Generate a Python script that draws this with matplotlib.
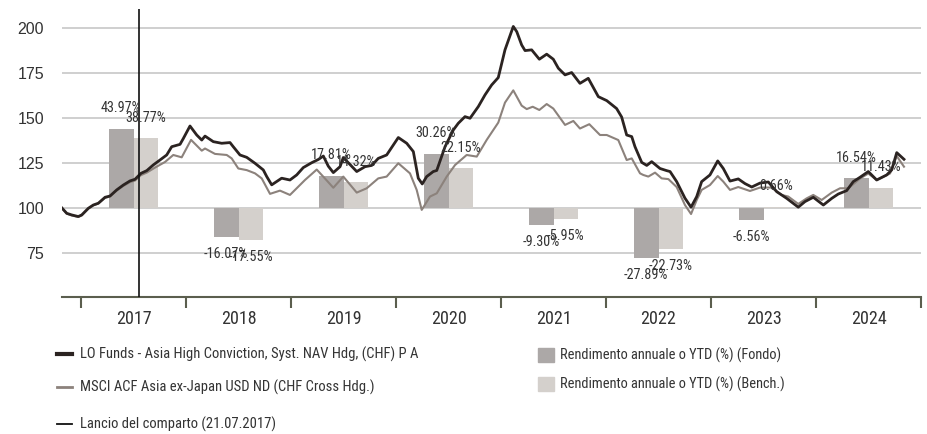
import os
import matplotlib
matplotlib.use("Agg")
import numpy as np
import matplotlib.pyplot as plt
from matplotlib import font_manager as fm
from matplotlib.lines import Line2D
from matplotlib.patches import Patch

# fund NAV (rebased to 100), time in decimal years
fund_t = [2016.816, 2016.864, 2016.911, 2016.974, 2017.007, 2017.070, 2017.117, 2017.165,
          2017.229, 2017.276, 2017.340, 2017.403, 2017.467, 2017.514, 2017.571, 2017.626,
          2017.689, 2017.752, 2017.816, 2017.864, 2017.943, 2017.974, 2018.038, 2018.102,
          2018.150, 2018.181, 2018.260, 2018.340, 2018.419, 2018.450, 2018.514, 2018.578,
          2018.657, 2018.736, 2018.769, 2018.816, 2018.911, 2018.990, 2019.054, 2019.117,
          2019.197, 2019.260, 2019.308, 2019.355, 2019.403, 2019.467, 2019.498, 2019.626,
          2019.705, 2019.769, 2019.831, 2019.911, 2020.022, 2020.102, 2020.165, 2020.212,
          2020.250, 2020.292, 2020.355, 2020.388, 2020.467, 2020.546, 2020.593, 2020.657,
          2020.705, 2020.784, 2020.848, 2020.911, 2020.974, 2021.038, 2021.117, 2021.150,
          2021.197, 2021.229, 2021.292, 2021.365, 2021.435, 2021.498, 2021.546, 2021.610,
          2021.673, 2021.752, 2021.831, 2021.927, 2022.007, 2022.101, 2022.149, 2022.197,
          2022.245, 2022.276, 2022.340, 2022.388, 2022.435, 2022.514, 2022.578, 2022.610,
          2022.673, 2022.752, 2022.810, 2022.864, 2022.911, 2022.990, 2023.064, 2023.117,
          2023.181, 2023.260, 2023.324, 2023.388, 2023.467, 2023.546, 2023.626, 2023.721,
          2023.831, 2023.895, 2023.974, 2024.070, 2024.150, 2024.212, 2024.292, 2024.355,
          2024.419, 2024.498, 2024.578, 2024.673, 2024.721, 2024.769, 2024.838]
fund_v = [100.3, 97.2, 96.3, 95.4, 96.3, 100.0, 101.8, 102.8,
          106.1, 106.8, 110.2, 112.9, 115.2, 116.1, 119.4, 120.9,
          124.1, 126.8, 129.6, 134.2, 135.5, 138.7, 145.7, 140.7,
          137.9, 140.1, 137.0, 136.1, 136.5, 134.2, 129.6, 128.3,
          125.0, 121.3, 117.6, 113.0, 116.7, 115.7, 118.5, 122.6,
          125.3, 127.1, 129.0, 123.4, 119.8, 123.1, 128.2, 120.4,
          123.1, 123.8, 127.7, 129.6, 139.3, 136.1, 131.5, 116.7,
          113.5, 117.6, 120.4, 121.0, 134.2, 143.5, 147.2, 150.9,
          150.0, 156.5, 163.0, 168.5, 172.6, 188.0, 201.0, 198.1,
          190.7, 187.6, 188.0, 182.8, 185.6, 182.8, 177.8, 174.1,
          175.4, 169.4, 172.2, 162.0, 159.8, 155.4, 150.7, 140.7,
          139.8, 134.2, 125.5, 123.8, 125.9, 122.1, 120.9, 120.4,
          114.8, 105.6, 100.6, 106.5, 114.8, 118.5, 126.3, 122.1,
          115.1, 116.3, 113.7, 111.8, 114.0, 114.6, 109.2, 105.5,
          100.6, 103.7, 106.1, 101.8, 105.5, 107.9, 109.8, 114.8,
          117.2, 120.4, 115.7, 118.5, 121.3, 130.9, 127.2]

# benchmark (rebased to 100)
bench_t = [2016.816, 2016.864, 2016.911, 2016.974, 2017.007, 2017.070, 2017.117, 2017.165,
           2017.229, 2017.276, 2017.340, 2017.403, 2017.467, 2017.514, 2017.571, 2017.626,
           2017.705, 2017.800, 2017.879, 2017.959, 2018.048, 2018.150, 2018.181, 2018.276,
           2018.388, 2018.435, 2018.498, 2018.578, 2018.657, 2018.721, 2018.800, 2018.895,
           2018.990, 2019.054, 2019.133, 2019.245, 2019.324, 2019.403, 2019.498, 2019.626,
           2019.721, 2019.831, 2019.911, 2020.022, 2020.133, 2020.197, 2020.245, 2020.324,
           2020.388, 2020.483, 2020.562, 2020.673, 2020.769, 2020.864, 2020.974, 2021.038,
           2021.117, 2021.197, 2021.245, 2021.302, 2021.365, 2021.435, 2021.498, 2021.610,
           2021.689, 2021.752, 2021.841, 2021.943, 2022.007, 2022.117, 2022.197, 2022.245,
           2022.324, 2022.355, 2022.403, 2022.467, 2022.530, 2022.594, 2022.673, 2022.752,
           2022.810, 2022.864, 2022.911, 2022.990, 2023.064, 2023.117, 2023.181, 2023.260,
           2023.371, 2023.467, 2023.578, 2023.673, 2023.736, 2023.831, 2023.911, 2023.974,
           2024.054, 2024.150, 2024.229, 2024.308, 2024.419, 2024.498, 2024.578, 2024.705,
           2024.769, 2024.838]
bench_v = [100.3, 97.0, 96.0, 95.2, 96.0, 99.8, 101.6, 102.6,
           105.8, 106.5, 109.8, 112.4, 114.5, 115.4, 118.4, 119.8,
           122.6, 125.7, 129.6, 128.3, 138.0, 132.0, 133.2, 130.2,
           129.6, 127.7, 122.1, 121.2, 119.4, 116.6, 108.0, 109.8,
           107.4, 111.1, 115.7, 121.5, 116.5, 111.4, 117.6, 108.7,
           111.1, 116.6, 117.6, 125.0, 119.4, 110.2, 99.1, 106.5,
           108.3, 117.6, 124.0, 129.6, 128.7, 138.0, 147.6, 158.7,
           165.5, 157.0, 155.1, 156.4, 154.6, 157.9, 155.4, 146.3,
           148.5, 144.3, 146.7, 140.7, 140.7, 137.9, 126.8, 127.7,
           119.4, 118.5, 117.6, 119.8, 116.6, 116.2, 111.8, 101.8,
           96.8, 104.6, 110.2, 112.9, 117.9, 114.8, 110.2, 111.8,
           109.6, 111.5, 111.5, 107.4, 106.5, 102.4, 105.5, 107.4,
           104.6, 108.7, 111.1, 111.1, 116.5, 119.3, 115.7, 119.3,
           129.0, 123.1]

years = [2017, 2018, 2019, 2020, 2021, 2022, 2023, 2024]
fund_ret = [43.97, -16.07, 17.81, 30.26, -9.30, -27.89, -6.56, 16.54]
bench_ret = [38.77, -17.55, 14.32, 22.15, -5.95, -22.73, 0.66, 11.43]

launch = 2017 + 201 / 365  # 21.07.2017

fund_lbl = "LO Funds - Asia High Conviction, Syst. NAV Hdg, (CHF) P A"
bench_lbl = "MSCI ACF Asia ex-Japan USD ND (CHF Cross Hdg.)"
launch_lbl = "Lancio del comparto (21.07.2017)"
bar_f_lbl = "Rendimento annuale o YTD (%) (Fondo)"
bar_b_lbl = "Rendimento annuale o YTD (%) (Bench.)"

c_fund = "#2b2321"
c_bench = "#8c827c"
c_bar_f = "#aca8a7"
c_bar_b = "#d4d0cc"
c_axis = "#5b5e4e"
c_text = "#333333"

# look for a narrow / condensed regular face, the reference uses one
prefer = ["liberationsansnarrow-regular", "arialnarrow", "robotocondensed-regular",
          "dejavusanscondensed.", "notosans-condensed.", "opensans-condensed",
          "opensans_condensed-regular", "notosanscondensed-regular"]
files = {os.path.basename(f.fname).lower(): f.fname for f in fm.fontManager.ttflist}
narrow_file = None
for p in prefer:
    hits = [k for k in files if k.startswith(p)]
    if hits:
        narrow_file = files[sorted(hits, key=len)[0]]
        break


def nfont(size):
    if narrow_file:
        return fm.FontProperties(fname=narrow_file, size=size)
    return fm.FontProperties(family="DejaVu Sans", stretch="condensed", size=size * 0.85)


reg_font = fm.FontProperties(family=["Liberation Sans", "DejaVu Sans"], size=11.5)

fig = plt.figure(figsize=(9.27, 4.34), dpi=100)
ax = fig.add_axes([62 / 927, 1 - 297 / 434, (921 - 62) / 927, (297 - 9) / 434])

xc = np.array(years) + 0.5
w = 0.236
ax.bar(xc - w / 2, fund_ret, width=w, bottom=100, color=c_bar_f, zorder=1)
ax.bar(xc + w / 2, bench_ret, width=w, bottom=100, color=c_bar_b, zorder=1)

ax.plot(bench_t, bench_v, color=c_bench, lw=1.5, zorder=3)
ax.plot(fund_t, fund_v, color=c_fund, lw=2.0, zorder=3.5)
ax.axvline(launch, color="#111111", lw=1.2, zorder=4)

for x0, rets in ((xc - w / 2, fund_ret), (xc + w / 2, bench_ret)):
    for x, r in zip(x0, rets):
        off = 15 if r >= 0 else -12
        ax.annotate(f"{r:.2f}%", xy=(x, 100 + r), xytext=(0, off),
                    textcoords="offset points", ha="center", va="center",
                    fontproperties=nfont(10.3), color=c_text, zorder=5)

ax.set_xlim(2016.819, 2025.0)
ax.set_ylim(50.7, 210.7)
ax.set_yticks([75, 100, 125, 150, 175, 200])
ax.yaxis.grid(True, color="#cccccc", lw=1.3)
ax.set_axisbelow(True)
ax.tick_params(axis="y", length=0, pad=13, labelcolor=c_text)
for t in ax.get_yticklabels():
    t.set_fontproperties(reg_font)

ax.set_xticks(range(2017, 2026))
ax.set_xticklabels([])
ax.set_xticks(xc, minor=True)
ax.set_xticklabels([str(y) for y in years], minor=True)
ax.tick_params(axis="x", which="major", length=8, width=1.5, color=c_axis, direction="out")
ax.tick_params(axis="x", which="minor", length=0, pad=9, labelcolor=c_text)
for t in ax.get_xticklabels(minor=True):
    t.set_fontproperties(nfont(13))

for s in ("left", "right", "top"):
    ax.spines[s].set_visible(False)
ax.spines["bottom"].set_color(c_axis)
ax.spines["bottom"].set_linewidth(1.5)

leg_font = nfont(10.5)
h1 = [Line2D([], [], color=c_fund, lw=3), Line2D([], [], color=c_bench, lw=2)]
fig.legend(h1, [fund_lbl, bench_lbl], loc="upper left", bbox_to_anchor=(57 / 927, 1 - 347 / 434),
           frameon=False, prop=leg_font, handlelength=1.05, handletextpad=0.55,
           labelspacing=1.2, borderpad=0, borderaxespad=0, labelcolor=c_text)
h2 = [Line2D([], [], color="#111111", lw=1.3)]
fig.legend(h2, [launch_lbl], loc="upper left", bbox_to_anchor=(57 / 927, 1 - 417 / 434),
           frameon=False, prop=leg_font, handlelength=1.05, handletextpad=0.55,
           borderpad=0, borderaxespad=0, labelcolor=c_text)
bar_font = nfont(10.4)
h3 = [Patch(color=c_bar_f), Patch(color=c_bar_b)]
fig.legend(h3, [bar_f_lbl, bar_b_lbl], loc="upper left", bbox_to_anchor=(538 / 927, 1 - 348 / 434),
           frameon=False, prop=bar_font, handlelength=1.1, handleheight=1.1,
           handletextpad=0.45, labelspacing=0.95, borderpad=0, borderaxespad=0,
           labelcolor=c_text)

fig.savefig("out.png", dpi=100)
